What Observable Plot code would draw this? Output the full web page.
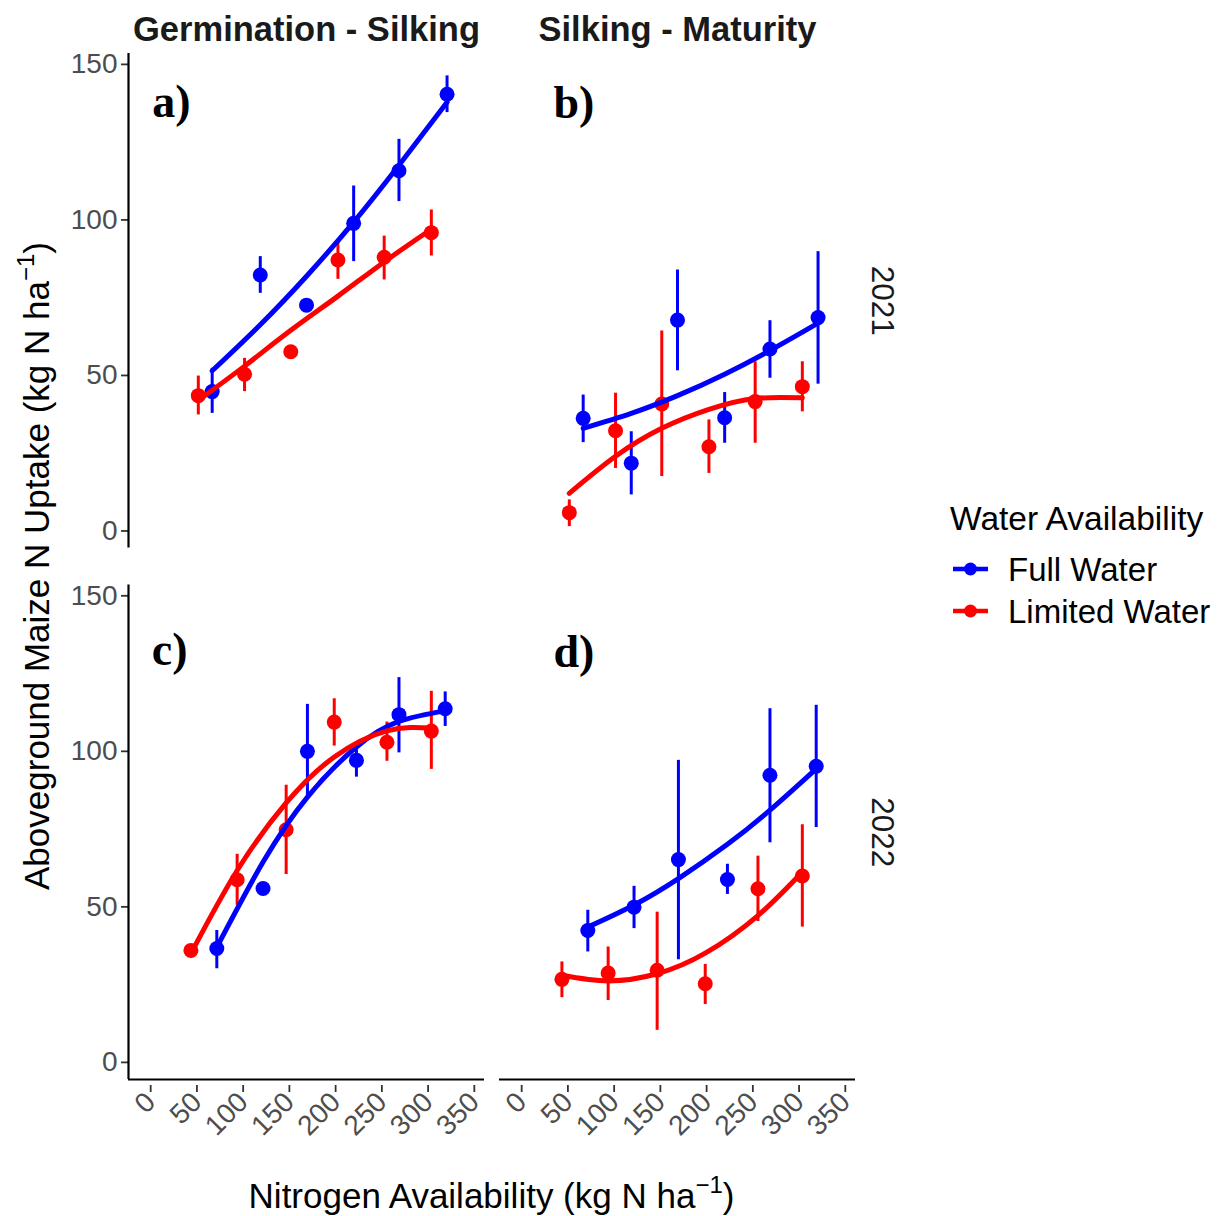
<!DOCTYPE html>
<html>
<head>
<meta charset="utf-8">
<script src="https://cdn.jsdelivr.net/npm/d3@7"></script>
<script src="https://cdn.jsdelivr.net/npm/@observablehq/plot@0.6"></script>
<style>
  html, body { margin: 0; padding: 0; background: #ffffff; }
  #chart { position: relative; width: 1229px; height: 1216px; }
  #chart svg { display: block; }
</style>
</head>
<body>
<div id="chart"></div>
<script>
// ---- categories ----
const phases = ["Germination - Silking", "Silking - Maturity"];
const years = ["2021", "2022"];
const waters = ["Full Water", "Limited Water"];
const panelTags = ["a)", "b)", "c)", "d)"];
const xTicks = [0, 50, 100, 150, 200, 250, 300, 350];
const yTicks = [0, 50, 100, 150];
const xDomain = [-17.5, 367.5];
const yDomain = [-5.5, 153.5];

// ---- nitrogen availability (kg N ha-1) per year & water treatment ----
const nFull2021 = [73, 125, 175, 226, 275, 327];
const nLimited2021 = [58, 108, 158, 209, 259, 310];
const nFull2022 = [78, 128, 176, 229, 275, 325];
const nLimited2022 = [50, 100, 153, 205, 262, 310];

// ---- N uptake: [mean, lower, upper] ----
const aFull = [[44.8, 37.8, 52.3], [82.3, 76.4, 88.2], [72.6, 71.0, 74.2], [98.9, 86.6, 110.9], [115.8, 105.9, 125.9], [140.4, 134.5, 146.3]];
const aLimited = [[43.5, 37.3, 49.8], [50.4, 44.8, 55.5], [57.6, 56.0, 59.2], [87.1, 80.9, 93.0], [88.0, 80.7, 94.8], [95.9, 88.4, 103.2]];
const bFull = [[36.2, 28.4, 43.7], [21.8, 11.6, 31.9], [67.8, 51.5, 83.9], [36.4, 28.2, 44.5], [58.5, 49.1, 67.6], [68.6, 47.2, 89.8]];
const bLimited = [[5.9, 1.4, 10.0], [32.2, 20.1, 44.3], [40.8, 17.5, 64.3], [27.1, 18.5, 35.7], [41.6, 28.2, 54.4], [46.4, 38.3, 54.4]];
const cFull = [[36.6, 30.1, 42.4], [55.9, 54.5, 57.3], [100.0, 84.8, 115.1], [97.1, 91.7, 102.5], [111.8, 99.5, 123.7], [113.7, 108.0, 119.1]];
const cLimited = [[36.0, 35.0, 37.0], [58.7, 50.5, 66.9], [74.8, 60.4, 89.1], [109.4, 101.7, 116.9], [102.9, 96.8, 109.4], [106.5, 94.2, 119.3]];
const dFull = [[42.4, 35.5, 48.9], [49.9, 43.0, 56.6], [65.2, 33.0, 97.1], [58.8, 54.0, 63.7], [92.3, 70.6, 113.7], [95.2, 75.5, 114.8]];
const dLimited = [[26.7, 20.8, 32.3], [28.7, 19.9, 37.1], [29.6, 10.3, 48.3], [25.3, 18.6, 31.5], [55.8, 45.3, 66.3], [59.9, 43.5, 76.4]];

// ---- fitted curves, read at the same N values ----
const aFullFit = [51.5, 66.3, 81.9, 99.3, 117.6, 137.8];
const aLimitedFit = [42.0, 53.0, 64.5, 75.5, 86.5, 97.0];
const bFullFit = [33.0, 37.8, 43.5, 50.4, 58.0, 66.8];
const bLimitedFit = [12.1, 24.0, 33.0, 39.1, 42.6, 42.8];
const cFullFit = [37.0, 64.4, 85.3, 101.4, 109.6, 113.0];
const cLimitedFit = [35.0, 61.7, 83.4, 98.2, 106.6, 107.5];
const dFullFit = [43.5, 50.6, 59.1, 70.1, 81.1, 94.4];
const dLimitedFit = [28.0, 26.2, 28.5, 35.1, 47.2, 61.2];

// ---- assemble tables ----
const panelDefs = [
  {tag: panelTags[0], phase: phases[0], year: years[0], full: aFull, lim: aLimited, fullFit: aFullFit, limFit: aLimitedFit, nF: nFull2021, nL: nLimited2021, tx: 29, ty: 133},
  {tag: panelTags[1], phase: phases[1], year: years[0], full: bFull, lim: bLimited, fullFit: bFullFit, limFit: bLimitedFit, nF: nFull2021, nL: nLimited2021, tx: 63, ty: 132.7},
  {tag: panelTags[2], phase: phases[0], year: years[1], full: cFull, lim: cLimited, fullFit: cFullFit, limFit: cLimitedFit, nF: nFull2022, nL: nLimited2022, tx: 27, ty: 127.7},
  {tag: panelTags[3], phase: phases[1], year: years[1], full: dFull, lim: dLimited, fullFit: dFullFit, limFit: dLimitedFit, nF: nFull2022, nL: nLimited2022, tx: 63, ty: 127}
];

const obs = [];
const fits = [];
for (const p of panelDefs) {
  p.nF.forEach((n, i) => {
    obs.push({phase: p.phase, year: p.year, water: waters[0], n, mean: p.full[i][0], lo: p.full[i][1], hi: p.full[i][2]});
    fits.push({phase: p.phase, year: p.year, water: waters[0], n, fit: p.fullFit[i]});
  });
  p.nL.forEach((n, i) => {
    obs.push({phase: p.phase, year: p.year, water: waters[1], n, mean: p.lim[i][0], lo: p.lim[i][1], hi: p.lim[i][2]});
    fits.push({phase: p.phase, year: p.year, water: waters[1], n, fit: p.limFit[i]});
  });
}

const colors = ["#0000FF", "#FF0000"];

const svg = Plot.plot({
  width: 1229,
  height: 1216,
  marginLeft: 128,
  marginRight: 374,
  marginTop: 53,
  marginBottom: 137,
  style: {fontFamily: "'Liberation Sans', Arial, sans-serif", background: "#ffffff", overflow: "visible", color: "#000"},
  fx: {domain: phases, paddingInner: 0.0404, paddingOuter: 0, round: false, axis: null},
  fy: {domain: years, paddingInner: 0.0693, paddingOuter: 0, round: false, axis: null},
  x: {domain: xDomain},
  y: {domain: yDomain},
  color: {domain: waters, range: colors},
  marks: [
    Plot.axisY({ticks: yTicks, tickSize: 7, tickPadding: 4, fontSize: 28, fill: "#4d4d4d", stroke: "#333333", strokeWidth: 1.8, label: null}),
    Plot.axisX({ticks: xTicks, tickSize: 7, tickPadding: 5, tickRotate: -45, fontSize: 28, dx: 6, dy: 6, fill: "#4d4d4d", stroke: "#333333", strokeWidth: 1.8, label: null}),
    // axis lines (left column / bottom row only)
    Plot.ruleX(years, {x: () => xDomain[0], y1: () => yDomain[0], y2: () => yDomain[1], fx: () => phases[0], fy: d => d, stroke: "#000", strokeWidth: 2.2}),
    Plot.ruleY(phases, {y: () => yDomain[0], x1: () => xDomain[0], x2: () => xDomain[1], fx: d => d, fy: () => years[1], stroke: "#000", strokeWidth: 2.2}),
    Plot.ruleX(obs, {x: "n", y1: "lo", y2: "hi", stroke: "water", strokeWidth: 3, fx: "phase", fy: "year"}),
    Plot.dot(obs, {x: "n", y: "mean", fill: "water", r: 7.5, fx: "phase", fy: "year"}),
    Plot.line(fits, {x: "n", y: "fit", stroke: "water", z: "water", strokeWidth: 5, curve: "natural", fx: "phase", fy: "year"}),
    Plot.text(panelDefs, {x: "tx", y: "ty", text: "tag", fx: "phase", fy: "year", fontFamily: "'Liberation Serif', 'Times New Roman', serif", fontWeight: "bold", fontSize: 46, textAnchor: "middle", lineAnchor: "bottom", fill: "#000"}),
    Plot.text(phases, {fx: d => d, fy: () => years[0], text: d => d, frameAnchor: "top", dy: -13, lineAnchor: "bottom", fontWeight: "bold", fontSize: 34.5, fill: "#1a1a1a"}),
    Plot.text(years, {fy: d => d, fx: () => phases[1], text: d => d, frameAnchor: "right", dx: 27, rotate: 90, textAnchor: "middle", lineAnchor: "middle", fontSize: 31.5, fill: "#1a1a1a"})
  ]
});

const root = d3.select(svg);

// Axis titles
const yTitle = root.append("text")
  .attr("transform", "translate(49,566) rotate(-90)")
  .attr("text-anchor", "middle")
  .attr("font-size", 35)
  .attr("fill", "#000");
yTitle.append("tspan").text("Aboveground Maize N Uptake (kg N ha");
yTitle.append("tspan").attr("font-size", 24).attr("dy", -15).text("\u22121");
yTitle.append("tspan").attr("dy", 15).text(")");

const xTitle = root.append("text")
  .attr("x", 491.5)
  .attr("y", 1208)
  .attr("text-anchor", "middle")
  .attr("font-size", 35)
  .attr("fill", "#000");
xTitle.append("tspan").text("Nitrogen Availability (kg N ha");
xTitle.append("tspan").attr("font-size", 24).attr("dy", -15).text("\u22121");
xTitle.append("tspan").attr("dy", 15).text(")");

// Legend
const lg = root.append("g").attr("class", "legend").attr("text-anchor", "start");
lg.append("text").attr("x", 950).attr("y", 530).attr("font-size", 33.5).attr("fill", "#000").attr("text-anchor", "start").text("Water Availability");
const legendRows = [569, 611];
waters.forEach((w, i) => {
  const yy = legendRows[i];
  lg.append("line").attr("x1", 953).attr("x2", 988).attr("y1", yy).attr("y2", yy).attr("stroke", colors[i]).attr("stroke-width", 4.5);
  lg.append("circle").attr("cx", 970.5).attr("cy", yy).attr("r", 6.5).attr("fill", colors[i]);
  lg.append("text").attr("x", 1008).attr("y", yy + 11.5).attr("font-size", 33).attr("fill", "#000").attr("text-anchor", "start").text(w);
});

document.getElementById("chart").appendChild(svg);
</script>
</body>
</html>
